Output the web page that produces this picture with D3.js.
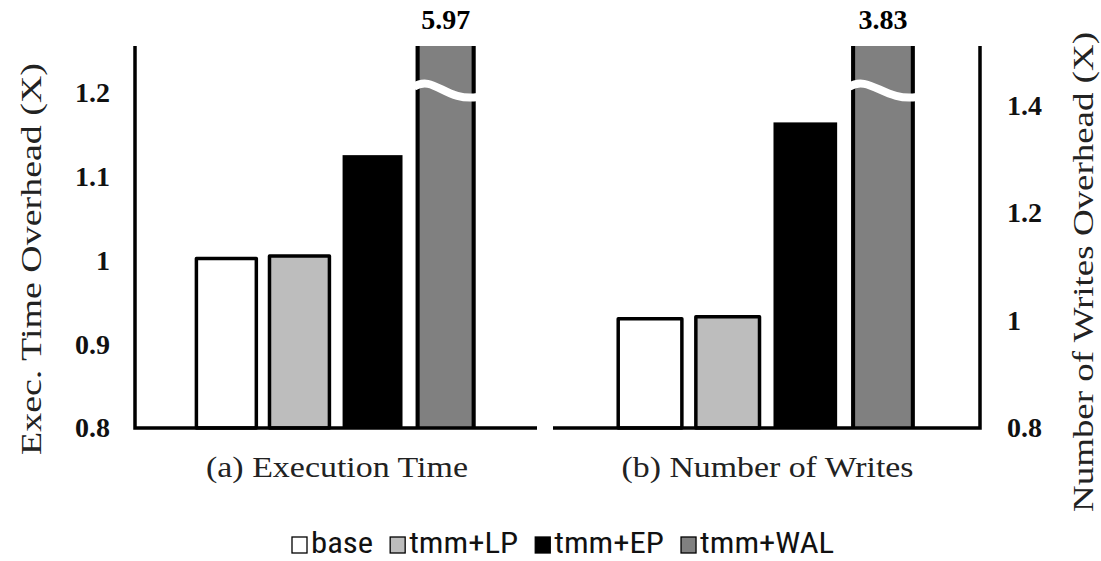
<!DOCTYPE html>
<html>
<head>
<meta charset="utf-8">
<script src="https://cdn.jsdelivr.net/npm/d3@7/dist/d3.min.js"></script>
<style>
  body { margin: 0; background: #fff; }
  svg { display: block; }
  .serif { font-family: "Liberation Serif", Tinos, "Times New Roman", Times, "Nimbus Roman", serif; }
  .narrow { font-family: "Liberation Sans Narrow", "Arial Narrow", "Roboto Condensed", "DejaVu Sans Condensed", sans-serif; font-stretch: condensed; }
</style>
</head>
<body>
<svg id="chart" width="1101" height="561"></svg>
<script>
// data
var series = ["base", "tmm+LP", "tmm+EP", "tmm+WAL"];
var fills = ["#ffffff", "#bdbdbd", "#000000", "#808080"];
var execTime = [1.002, 1.005, 1.125, 5.97];
var numWrites = [1.003, 1.007, 1.368, 3.83];
var leftTicks = [0.8, 0.9, 1, 1.1, 1.2];
var rightTicks = [0.8, 1, 1.2, 1.4];
var panelLabels = ["(a) Execution Time", "(b) Number of Writes"];

var svg = d3.select("#chart");

var baseY = 428, topY = 46;

// scales, one per panel
var yL = d3.scaleLinear().domain([0.8, 1.255]).range([baseY, topY]);
var yR = d3.scaleLinear().domain([0.8, 1.51]).range([baseY, topY]);

var xL = d3.scaleBand().domain(series).range([135, 537]).paddingInner(0.18).paddingOuter(0.84);
var xR = d3.scaleBand().domain(series).range([553, 980]).paddingInner(0.18).paddingOuter(0.84);

function drawPanel(vals, x, y, labelIdx) {
    var g = svg.append("g");
    var maxV = y.domain()[1];
    var bars = g.selectAll("g.bar")
        .data(vals)
        .enter().append("g").attr("class", "bar");

    bars.append("rect")
        .attr("x", function (d, i) { return x(series[i]); })
        .attr("width", x.bandwidth())
        .attr("y", function (d) { return y(Math.min(d, maxV)); })
        .attr("height", function (d) { return baseY - y(Math.min(d, maxV)); })
        .attr("fill", function (d, i) { return fills[i]; })
        .attr("stroke", function (d, i) { return i < 2 ? "#000" : "none"; })
        .attr("stroke-width", 3.5)
        .attr("stroke-linejoin", "round");

    // broken bars: black sides + wavy white cut + value label on top
    var broken = vals.map(function (d, i) { return {v: d, i: i}; })
        .filter(function (o) { return o.v > maxV; });
    broken.forEach(function (o) {
        var x0 = x(series[o.i]), x1 = x0 + x.bandwidth();
        var t = y(maxV);
        [x0 + 2, x1 - 2].forEach(function (xx) {
            g.append("line").attr("x1", xx).attr("x2", xx)
                .attr("y1", t).attr("y2", baseY)
                .attr("stroke", "#000").attr("stroke-width", 4);
        });
        var by = t + 44;
        g.append("path")
            .attr("d", "M" + (x0 - 2) + "," + (by - 3) +
                " C" + (x0 + 18) + "," + (by - 16) + " " + (x1 - 30) + "," + (by + 12) +
                " " + (x1 + 2) + "," + (by + 7))
            .attr("fill", "none")
            .attr("stroke", "#fff")
            .attr("stroke-width", 8);
        g.append("text")
            .attr("class", "serif")
            .attr("x", (x0 + x1) / 2)
            .attr("y", 29)
            .attr("text-anchor", "middle")
            .attr("font-weight", "bold")
            .attr("font-size", 28)
            .text(o.v.toFixed(2));
    });

    // category label under the panel
    var r = x.range();
    g.append("text")
        .attr("class", "serif")
        .attr("x", (r[0] + r[1]) / 2 + 1)
        .attr("y", 477)
        .attr("text-anchor", "middle")
        .attr("font-size", 30)
        .attr("textLength", labelIdx == 0 ? 262 : 292)
        .attr("lengthAdjust", "spacingAndGlyphs")
        .attr("fill", "#222")
        .text(panelLabels[labelIdx]);
}

drawPanel(execTime, xL, yL, 0);
drawPanel(numWrites, xR, yR, 1);

// axes lines (no tick marks)
svg.append("path")
    .attr("d", "M135," + topY + " V" + baseY + " H537")
    .attr("fill", "none").attr("stroke", "#000").attr("stroke-width", 3.5);
svg.append("path")
    .attr("d", "M553," + baseY + " H980 V" + topY)
    .attr("fill", "none").attr("stroke", "#000").attr("stroke-width", 3.5);

// tick labels via d3 axes
var axL = svg.append("g").attr("transform", "translate(135,0)")
    .call(d3.axisLeft(yL).tickValues(leftTicks).tickSize(0).tickPadding(25).tickFormat(d3.format("~g")));
var axR = svg.append("g").attr("transform", "translate(980,0)")
    .call(d3.axisRight(yR).tickValues(rightTicks).tickSize(0).tickPadding(27).tickFormat(d3.format("~g")));
[axL, axR].forEach(function (ax) {
    ax.attr("font-family", null);
    ax.select(".domain").remove();
    ax.selectAll("text")
        .attr("class", "serif")
        .attr("font-weight", "bold")
        .attr("font-size", 28)
        .attr("fill", "#111");
});

// axis titles
svg.append("text")
    .attr("class", "serif")
    .attr("transform", "translate(41,259) rotate(-90)")
    .attr("text-anchor", "middle")
    .attr("font-size", 30)
    .attr("textLength", 392)
    .attr("lengthAdjust", "spacingAndGlyphs")
    .attr("fill", "#222")
    .text("Exec. Time Overhead (X)");
svg.append("text")
    .attr("class", "serif")
    .attr("transform", "translate(1093,272) rotate(-90)")
    .attr("text-anchor", "middle")
    .attr("font-size", 30)
    .attr("textLength", 480)
    .attr("lengthAdjust", "spacingAndGlyphs")
    .attr("fill", "#222")
    .text("Number of Writes Overhead (X)");

// legend (glyphs widened a little to match the original font)
var legend = svg.append("g");
var lx = 292;
series.forEach(function (s, i) {
    legend.append("rect")
        .attr("x", lx).attr("y", 537)
        .attr("width", 15).attr("height", 16)
        .attr("fill", fills[i])
        .attr("stroke", "#000").attr("stroke-width", 1.3);
    var t = legend.append("text")
        .attr("class", "narrow")
        .attr("x", lx + 19).attr("y", 553)
        .attr("font-size", 29)
        .attr("fill", "#111")
        .text(s);
    var w = t.node().getComputedTextLength() * 1.13;
    t.attr("textLength", w).attr("lengthAdjust", "spacingAndGlyphs");
    lx += 19 + w + 17;
});
</script>
</body>
</html>
